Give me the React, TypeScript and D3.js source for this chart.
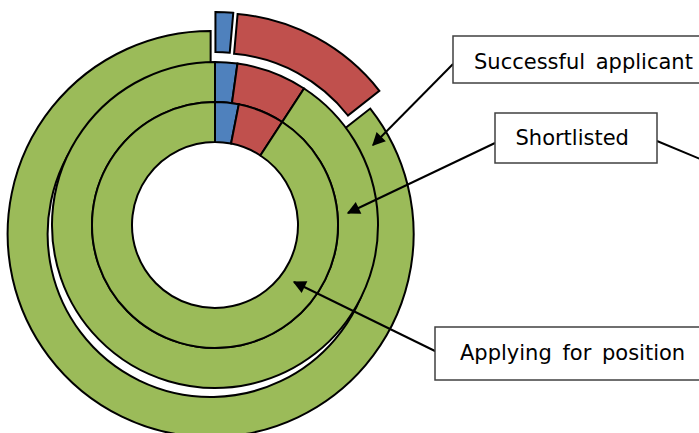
import React from "react";
import * as d3 from "d3";

// Ring order: inner -> outer
const rings = ["Applying for position", "Shortlisted", "Successful applicant"];
const segmentNames = ["Blue", "Red", "Green"];
const blueValues = [3.1, 2.2, 1.4];
const redValues = [6.1, 7.0, 13.0];
const greenValues = [90.8, 90.8, 85.6];
const colors = ["#4F81BD", "#C0504D", "#9BBB59"];

const W = 699;
const H = 433;
const cx = 215;
const cy = 225;
const holeR = 83;
const ringW = 40;
const explode = 10;

type Label = { text: string; x: number; y: number; w: number; h: number; tx: number; ty: number; from: [number, number]; to: [number, number] };
const labels: Label[] = [
  { text: "Successful applicant", x: 453, y: 36, w: 270, h: 47, tx: 474, ty: 69, from: [453, 64], to: [373, 145] },
  { text: "Shortlisted", x: 495, y: 113, w: 162, h: 50, tx: 515.5, ty: 145, from: [495, 143], to: [348, 213] },
  { text: "Applying for position", x: 435, y: 327, w: 280, h: 53, tx: 460, ty: 360, from: [437, 352], to: [294, 282] },
];

export default function App() {
  const pie = d3.pie<number>().sort(null).value((d) => d);
  const ringData = rings.map((_, i) => [blueValues[i], redValues[i], greenValues[i]]);

  return (
    <svg width={W} height={H} style={{ position: "absolute", left: 0, top: 0 }}>
      <defs>
        <marker id="ah" viewBox="0 0 10 10" refX="9" refY="5" markerWidth="7" markerHeight="6.5" orient="auto" markerUnits="strokeWidth">
          <path d="M0,0 L10,5 L0,10 z" fill="#000" />
        </marker>
      </defs>
      <g transform={`translate(${cx},${cy})`}>
        {ringData
          .map((vals, ri) => {
            const inner = holeR + ri * ringW;
            const outer = inner + ringW;
            const arc = d3.arc<d3.PieArcDatum<number>>().innerRadius(inner).outerRadius(outer);
            const isOuter = ri === rings.length - 1;
            return (
              <g key={rings[ri]}>
                {pie(vals).map((a, si) => {
                  const mid = (a.startAngle + a.endAngle) / 2;
                  const dx = isOuter ? explode * Math.sin(mid) : 0;
                  const dy = isOuter ? -explode * Math.cos(mid) : 0;
                  return (
                    <path
                      key={segmentNames[si]}
                      d={arc(a) || ""}
                      transform={`translate(${dx},${dy})`}
                      fill={colors[si]}
                      stroke="#000"
                      strokeWidth={2}
                    />
                  );
                })}
              </g>
            );
          })
          .reverse()}
      </g>
      <line x1={657} y1={141} x2={760} y2={184} stroke="#000" strokeWidth={2} />
      {labels.map((l) => (
        <g key={l.text}>
          <line x1={l.from[0]} y1={l.from[1]} x2={l.to[0]} y2={l.to[1]} stroke="#000" strokeWidth={2} markerEnd="url(#ah)" />
          <rect x={l.x} y={l.y} width={l.w} height={l.h} fill="#fff" stroke="#404040" strokeWidth={1.5} />
          <text x={l.tx} y={l.ty} fontFamily="DejaVu Sans, Verdana, sans-serif" fontSize={21} fill="#000" wordSpacing={4}>
            {l.text}
          </text>
        </g>
      ))}
    </svg>
  );
}
